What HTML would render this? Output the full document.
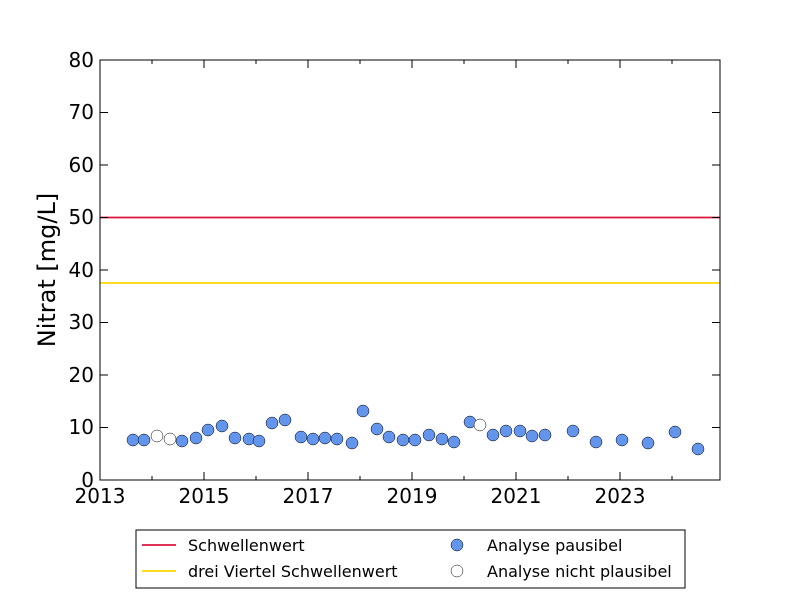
<!DOCTYPE html>
<html><head><meta charset="utf-8"><style>body{margin:0;background:#fff}</style></head><body>
<svg width="800" height="600" xmlns="http://www.w3.org/2000/svg" font-family="DejaVu Sans, Liberation Sans, sans-serif">
<rect width="800" height="600" fill="#fff"/>
<line x1="100" y1="217.5" x2="720" y2="217.5" stroke="#dc143c" stroke-width="1.8"/>
<line x1="100" y1="283" x2="720" y2="283" stroke="#ffd700" stroke-width="1.8"/>
<g stroke="#000" stroke-width="1">
<path d="M152 480v-4M152 60v4M256 480v-4M256 60v4M360 480v-4M360 60v4M464 480v-4M464 60v4M568 480v-4M568 60v4M672 480v-4M672 60v4"/>
<path d="M204 480v-8M204 60v8M308 480v-8M308 60v8M412 480v-8M412 60v8M516 480v-8M516 60v8M620 480v-8M620 60v8"/>
<path d="M100 427.5h8M100 375h8M100 322.5h8M100 270h8M100 217.5h8M100 165h8M100 112.5h8M720 427.5h-8M720 375h-8M720 322.5h-8M720 270h-8M720 217.5h-8M720 165h-8M720 112.5h-8"/>
</g>
<g fill="#6495ed" stroke="#000" stroke-width="0.5">
<circle cx="133" cy="440" r="6"/><circle cx="144" cy="440" r="6"/><circle cx="182" cy="441" r="6"/><circle cx="196" cy="438" r="6"/><circle cx="208" cy="430" r="6"/><circle cx="222" cy="426" r="6"/><circle cx="235" cy="438" r="6"/><circle cx="249" cy="439" r="6"/><circle cx="259" cy="441" r="6"/><circle cx="272" cy="423" r="6"/><circle cx="285" cy="420" r="6"/><circle cx="301" cy="437" r="6"/><circle cx="313" cy="439" r="6"/><circle cx="325" cy="438" r="6"/><circle cx="337" cy="439" r="6"/><circle cx="352" cy="443" r="6"/><circle cx="363" cy="411" r="6"/><circle cx="377" cy="429" r="6"/><circle cx="389" cy="437" r="6"/><circle cx="403" cy="440" r="6"/><circle cx="415" cy="440" r="6"/><circle cx="429" cy="435" r="6"/><circle cx="442" cy="439" r="6"/><circle cx="454" cy="442" r="6"/><circle cx="470" cy="422" r="6"/><circle cx="493" cy="435" r="6"/><circle cx="506" cy="431" r="6"/><circle cx="520" cy="431" r="6"/><circle cx="532" cy="436" r="6"/><circle cx="545" cy="435" r="6"/><circle cx="573" cy="431" r="6"/><circle cx="596" cy="442" r="6"/><circle cx="622" cy="440" r="6"/><circle cx="648" cy="443" r="6"/><circle cx="675" cy="432" r="6"/><circle cx="698" cy="449" r="6"/>
</g>
<g fill="#fff" stroke="#000" stroke-width="0.5">
<circle cx="157" cy="436" r="6"/><circle cx="170" cy="439" r="6"/><circle cx="480" cy="425" r="6"/>
</g>
<rect x="100" y="60" width="620" height="420" fill="none" stroke="#000" stroke-width="1"/>
<g font-size="20" text-anchor="end">
<text x="94" y="487">0</text><text x="94" y="434">10</text><text x="94" y="382">20</text><text x="94" y="329">30</text><text x="94" y="277">40</text><text x="94" y="224">50</text><text x="94" y="172">60</text><text x="94" y="119">70</text><text x="94" y="67">80</text>
</g>
<g font-size="20" text-anchor="middle">
<text x="100" y="503">2013</text><text x="204" y="503">2015</text><text x="308" y="503">2017</text><text x="412" y="503">2019</text><text x="516" y="503">2021</text><text x="620" y="503">2023</text>
</g>
<text transform="translate(55,270) rotate(-90)" font-size="24" text-anchor="middle">Nitrat [mg/L]</text>
<rect x="136" y="530" width="549" height="58" fill="#fff" stroke="#000" stroke-width="1"/>
<line x1="142" y1="545" x2="176" y2="545" stroke="#dc143c" stroke-width="1.8"/>
<line x1="142" y1="571" x2="176" y2="571" stroke="#ffd700" stroke-width="1.8"/>
<circle cx="457" cy="545" r="6" fill="#6495ed" stroke="#000" stroke-width="0.5"/>
<circle cx="457" cy="571" r="6" fill="#fff" stroke="#000" stroke-width="0.5"/>
<g font-size="16">
<text x="188" y="551">Schwellenwert</text><text x="188" y="577">drei Viertel Schwellenwert</text>
<text x="487" y="551">Analyse pausibel</text><text x="487" y="577">Analyse nicht plausibel</text>
</g>
</svg>
</body></html>
